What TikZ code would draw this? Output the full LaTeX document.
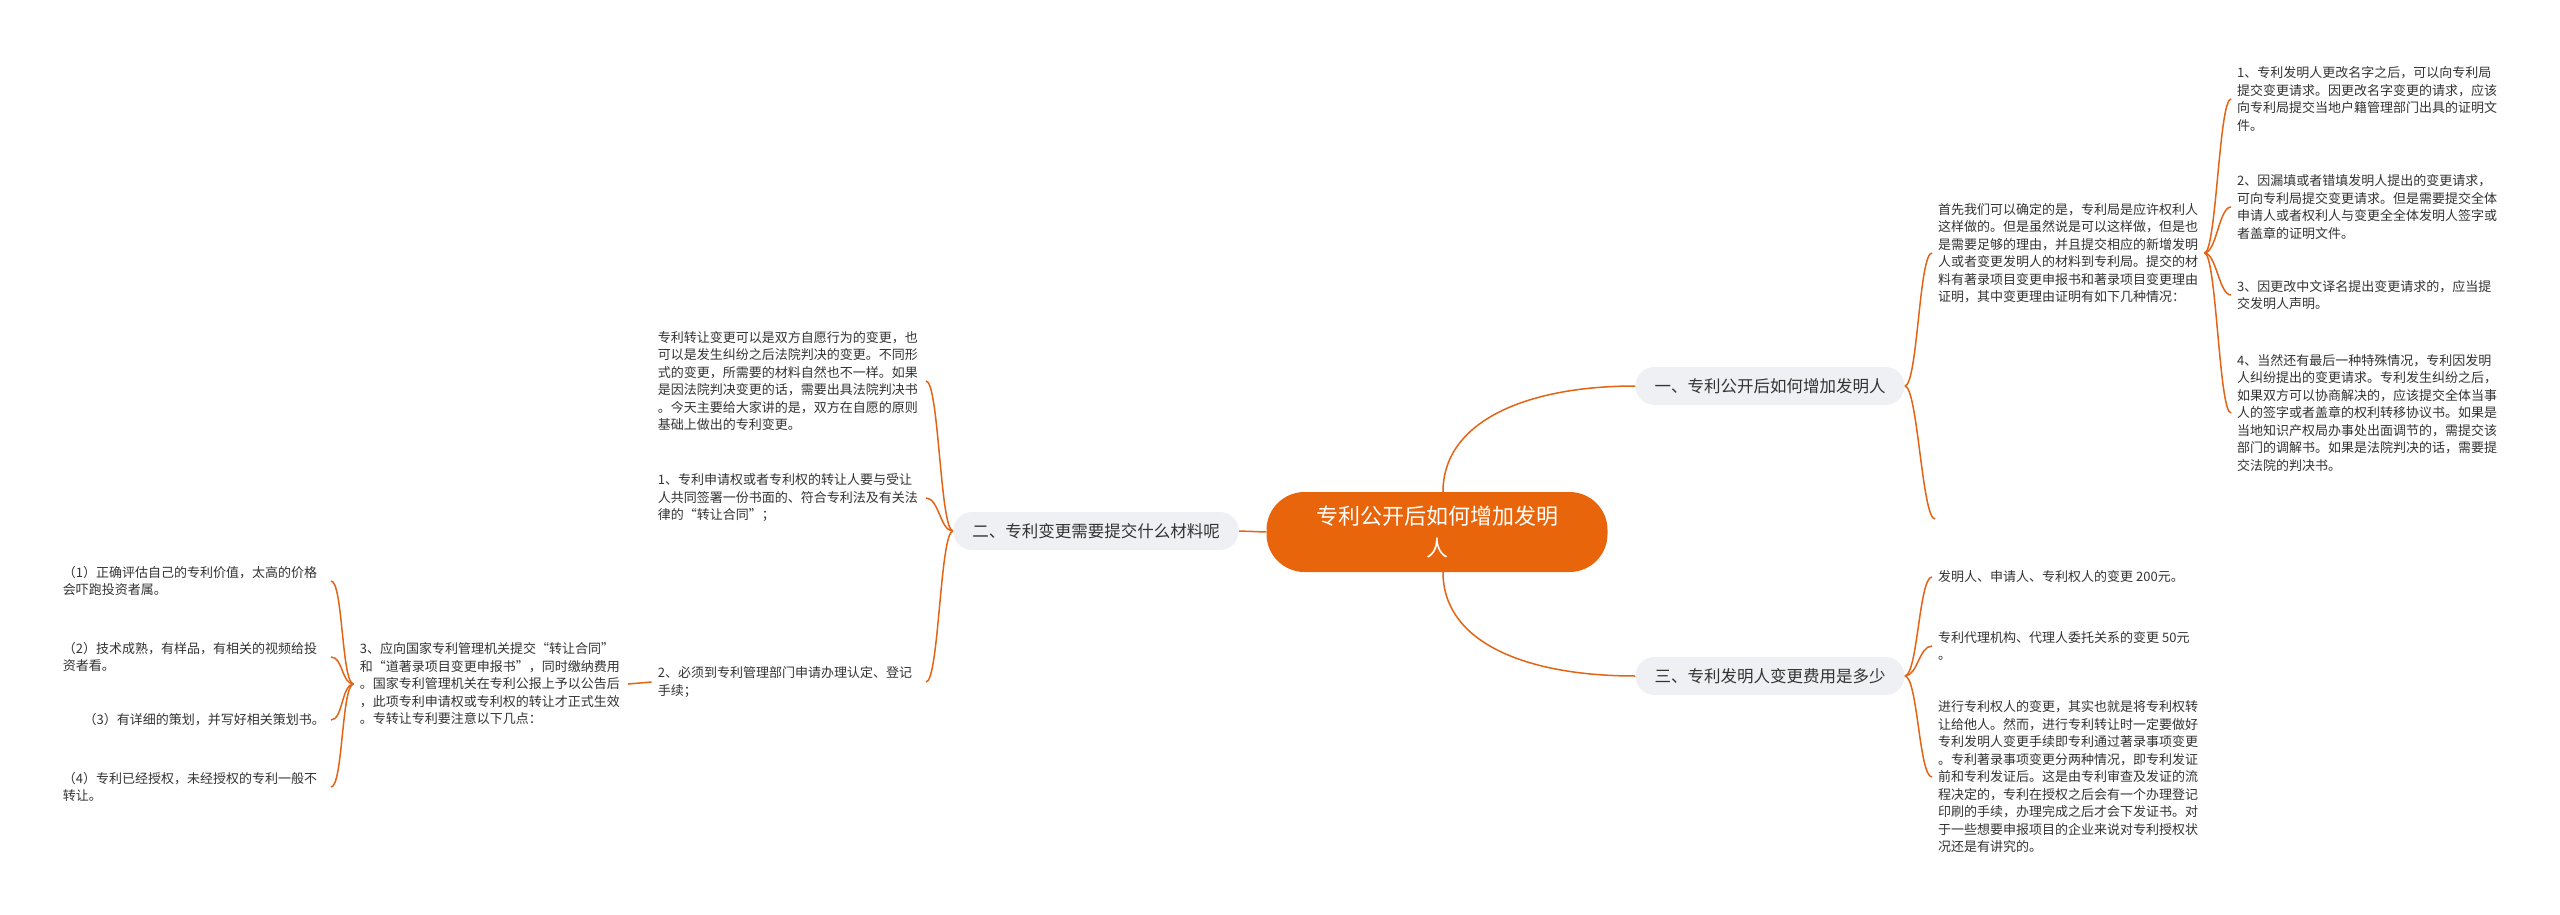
\documentclass[tikz,border=0pt]{standalone}
\usepackage{fontspec}
\setmainfont{Noto Sans CJK SC}
\definecolor{rootc}{RGB}{232,101,12}
\definecolor{linec}{RGB}{226,100,20}
\definecolor{branchc}{RGB}{238,240,243}
\definecolor{textc}{RGB}{51,51,51}
\pgfdeclarelayer{back}
\pgfdeclarelayer{bg}
\pgfsetlayers{back,bg,main}
\begin{document}
\begin{tikzpicture}[x=1pt,y=-1pt,
  txt/.style={font=\fontsize{13}{17.5}\selectfont, text=textc, align=left, inner xsep=6pt, inner ysep=2pt},
  wtxt/.style={txt, text width=262pt},
  branch/.style={fill=branchc, rounded corners=19pt, minimum height=38pt, inner xsep=19pt, font=\fontsize{16.5}{20}\selectfont, text=textc},
  rootnode/.style={fill=rootc, text=white, rounded corners=38pt, minimum width=341pt, minimum height=80pt, font=\fontsize{22}{32}\selectfont, align=center},
  conn/.style={draw=linec, line width=1.5pt},
  rb/.style={to path={.. controls ([xshift=#1]\tikztostart) and ([xshift=-#1]\tikztotarget) .. (\tikztotarget)}},
  lb/.style={to path={.. controls ([xshift=-#1]\tikztostart) and ([xshift=#1]\tikztotarget) .. (\tikztotarget)}},
]
\begin{pgfonlayer}{back}
\fill[white] (0,0) rectangle (2560,915);
\end{pgfonlayer}
\useasboundingbox (0,0) rectangle (2560,915);

% root and branches
\node[rootnode] (root) at (1437,532) {专利公开后如何增加发明\\人};
\node[branch] (one) at (1770,386) {一、专利公开后如何增加发明人};
\node[branch] (two) at (1096,531) {二、专利变更需要提交什么材料呢};
\node[branch] (three) at (1770,676) {三、专利发明人变更费用是多少};

% branch one
\node[txt, anchor=west] (p1) at (1932,253) {首先我们可以确定的是，专利局是应许权利人\\这样做的。但是虽然说是可以这样做，但是也\\是需要足够的理由，并且提交相应的新增发明\\人或者变更发明人的材料到专利局。提交的材\\料有著录项目变更申报书和著录项目变更理由\\证明，其中变更理由证明有如下几种情况：};
\coordinate (e1) at (1935,519);
\node[txt, anchor=west] (r1) at (2231,99) {1、专利发明人更改名字之后，可以向专利局\\提交变更请求。因更改名字变更的请求，应该\\向专利局提交当地户籍管理部门出具的证明文\\件。};
\node[txt, anchor=west] (r2) at (2231,207) {2、因漏填或者错填发明人提出的变更请求，\\可向专利局提交变更请求。但是需要提交全体\\申请人或者权利人与变更全全体发明人签字或\\者盖章的证明文件。};
\node[txt, anchor=west] (r3) at (2231,295) {3、因更改中文译名提出变更请求的，应当提\\交发明人声明。};
\node[txt, anchor=west] (r4) at (2231,413) {4、当然还有最后一种特殊情况，专利因发明\\人纠纷提出的变更请求。专利发生纠纷之后，\\如果双方可以协商解决的，应该提交全体当事\\人的签字或者盖章的权利转移协议书。如果是\\当地知识产权局办事处出面调节的，需提交该\\部门的调解书。如果是法院判决的话，需要提\\交法院的判决书。};

% branch three
\node[txt, anchor=west] (t1) at (1932,577) {发明人、申请人、专利权人的变更 200元。};
\node[txt, anchor=west] (t2) at (1932,646) {专利代理机构、代理人委托关系的变更 50元\\。};
\node[txt, anchor=west] (t3) at (1932,777) {进行专利权人的变更，其实也就是将专利权转\\让给他人。然而，进行专利转让时一定要做好\\专利发明人变更手续即专利通过著录事项变更\\。专利著录事项变更分两种情况，即专利发证\\前和专利发证后。这是由专利审查及发证的流\\程决定的，专利在授权之后会有一个办理登记\\印刷的手续，办理完成之后才会下发证书。对\\于一些想要申报项目的企业来说对专利授权状\\况还是有讲究的。};

% branch two
\node[wtxt, anchor=east] (l1) at (926,381) {专利转让变更可以是双方自愿行为的变更，也\\可以是发生纠纷之后法院判决的变更。不同形\\式的变更，所需要的材料自然也不一样。如果\\是因法院判决变更的话，需要出具法院判决书\\。今天主要给大家讲的是，双方在自愿的原则\\基础上做出的专利变更。};
\node[wtxt, anchor=east] (l2) at (926,498) {1、专利申请权或者专利权的转让人要与受让\\人共同签署一份书面的、符合专利法及有关法\\律的“转让合同”；};
\node[wtxt, anchor=east] (l3) at (926,682) {2、必须到专利管理部门申请办理认定、登记\\手续；};
\node[wtxt, anchor=east] (l4) at (628,684) {3、应向国家专利管理机关提交“转让合同”\\和“道著录项目变更申报书”，同时缴纳费用\\。国家专利管理机关在专利公报上予以公告后\\，此项专利申请权或专利权的转让才正式生效\\。专转让专利要注意以下几点：};
\node[wtxt, anchor=east] (f1) at (331,581) {（1）正确评估自己的专利价值，太高的价格\\会吓跑投资者属。};
\node[wtxt, anchor=east] (f2) at (331,657) {（2）技术成熟，有样品，有相关的视频给投\\资者看。};
\node[txt, anchor=east] (f3) at (331,720) {（3）有详细的策划，并写好相关策划书。};
\node[wtxt, anchor=east] (f4) at (331,787) {（4）专利已经授权，未经授权的专利一般不\\转让。};

\begin{pgfonlayer}{bg}
\draw[conn] ([xshift=6pt]root.north) .. controls ([xshift=6pt,yshift=70pt]root.north) and ([xshift=-110pt]one.west) .. (one.west);
\draw[conn] ([xshift=6pt]root.south) .. controls ([xshift=6pt,yshift=-70pt]root.south) and ([xshift=-110pt]three.west) .. (three.west);
\draw[conn] (root.west) -- (two.east);
\draw[conn] (one.east) to[rb=13pt] (p1.west);
\draw[conn] (one.east) to[rb=13pt] (e1);
\foreach \n in {r1,r2,r3,r4} \draw[conn] (p1.east) to[rb=12pt] (\n.west);
\foreach \n in {t1,t2,t3} \draw[conn] (three.east) to[rb=13pt] (\n.west);
\foreach \n in {l1,l2,l3} \draw[conn] (two.west) to[lb=13pt] (\n.east);
\draw[conn] (l3.west) -- (l4.east);
\foreach \n in {f1,f2,f3,f4} \draw[conn] (l4.west) to[lb=12pt] (\n.east);
\end{pgfonlayer}
\end{tikzpicture}
\end{document}
